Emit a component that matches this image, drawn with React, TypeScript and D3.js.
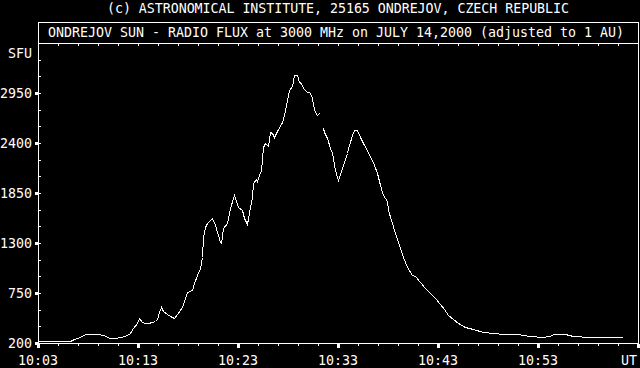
import React from "react";
import * as d3 from "d3";

// minutes after 10:00 UT
const times: number[] = [
  3.0, 4.2, 5.4, 6.2, 6.6, 7.2, 7.7, 8.2, 8.9, 9.5, 10.2, 10.7, 11.2, 11.7, 12.2, 12.53, 12.87, 13.13,
  13.37, 13.7, 14.03, 14.37, 14.7, 14.93, 15.13, 15.3, 15.53, 15.87, 16.2, 16.6, 16.93, 17.37, 17.93,
  18.37, 18.6, 18.87, 19.2, 19.37, 19.53, 19.7, 19.93, 20.37, 20.7, 21.2, 21.3, 21.53, 21.87, 22.2,
  22.63, 23.03, 23.37, 23.6, 23.93, 24.2, 24.37, 24.47, 24.77, 24.87, 25.1, 25.27, 25.47, 25.7, 25.97,
  26.2, 26.37, 26.63, 26.93, 27.4, 27.6, 27.87, 28.13, 28.37, 28.6, 28.87, 29.1, 29.27, 29.53, 29.87,
  30.13, 30.37, 30.53, 30.7, 30.93, 31.1, 31.3, 31.53, 31.6, 31.87, 32.2, 32.43, 32.7, 33.03, 33.37,
  33.53, 33.87, 34.13, 34.37, 34.6, 34.93, 35.2, 35.53, 35.87, 36.2, 36.53, 36.87, 37.2, 37.5, 37.87,
  38.03, 38.37, 38.7, 39.2, 39.53, 39.87, 40.37, 40.7, 41.2, 41.7, 42.2, 42.7, 43.2, 43.6, 44.03, 44.53,
  45.03, 45.7, 46.53, 47.53, 48.53, 49.53, 50.87, 52.2, 53.37, 54.2, 54.53, 55.7, 56.53, 58.2, 59.87, 61.37,
];
const flux: (number | null)[] = [
  222, 222, 222, 225, 240, 270, 295, 300, 302, 283, 255, 258, 268, 281, 314, 362, 423, 472,
  434, 423, 417, 434, 442, 460, 544, 592, 555, 519, 497, 478, 519, 599, 764,
  783, 857, 948, 1022, 1149, 1369, 1479, 1517, 1575, 1498, 1314, 1303, 1465, 1517, 1685,
  1828, 1700, 1663, 1572, 1506, 1700, 1809, 1957, 2000, 1985, 2048, 2103, 2359, 2396, 2367,
  2524, 2507, 2463, 2535, 2628, 2708, 2873, 2983, 3027, 3148, 3148, 3074, 3057, 3002, 2965,
  2958, 2910, 2818, 2744, 2708, 2726, null, 2561, 2524, 2451, 2341, 2286, 2103, 1993, 2121,
  2158, 2286, 2378, 2488, 2543, 2543, 2463, 2396, 2323, 2249, 2194, 2066, 1938, 1830, 1760,
  1660, 1517, 1407, 1242, 1149, 1039, 948, 937, 874, 801, 747, 692, 632, 570, 510, 462,
  420, 379, 353, 324, 306, 296, 296, 281, 270, 277, 296, 296, 277, 270, 263, 263,
];

const yTicks: number[] = [200, 750, 1300, 1850, 2400, 2950];
const xTicks: number[] = [3, 13, 23, 33, 43, 53, 63];
const xTickLabels: string[] = ["10:03", "10:13", "10:23", "10:33", "10:43", "10:53", ""];

const title1 = "(c) ASTRONOMICAL INSTITUTE, 25165 ONDREJOV, CZECH REPUBLIC";
const title2 = "ONDREJOV SUN - RADIO FLUX at 3000 MHz on JULY 14,2000 (adjusted to 1 AU)";

const W = 640, H = 368;
const L = 38, R = 638, T = 43, B = 343;
const FONT = "'DejaVu Sans Mono', 'Liberation Mono', monospace";

export default function App() {
  const x = d3.scaleLinear().domain([3, 63]).range([L, R]);
  const y = d3.scaleLinear().domain([200, 3500]).range([B, T]);
  const data = times.map((t, i) => ({ t, v: flux[i] }));
  const line = d3
    .line<{ t: number; v: number | null }>()
    .defined((d) => d.v !== null)
    .x((d) => Math.round(x(d.t)) + 0.5)
    .y((d) => Math.round(y(d.v as number)) + 0.5);

  const minorX = d3.range(3, 63.01, 2);
  const minorY = d3.range(200, 3500.1, 550 / 3);

  return (
    <svg
      width={W}
      height={H}
      style={{ position: "absolute", left: 0, top: 0, background: "#000" }}
      fontFamily={FONT}
    >
      <rect x={0} y={0} width={W} height={H} fill="#000" />
      <text x={338} y={13} fill="#fff" fontSize={13.3} textAnchor="middle" textLength={462} lengthAdjust="spacing">
        {title1}
      </text>
      {/* title box */}
      <rect x={L + 0.5} y={22.5} width={R - L} height={T - 22} fill="none" stroke="#fff" strokeWidth={1} />
      <text x={336} y={37} fill="#fff" fontSize={13.3} textAnchor="middle" textLength={576} lengthAdjust="spacing">
        {title2}
      </text>
      {/* plot frame */}
      <rect x={L + 0.5} y={T + 0.5} width={R - L} height={B - T} fill="none" stroke="#fff" strokeWidth={1} />
      {/* top minor ticks */}
      {minorX.map((m) => (
        <rect key={"tm" + m} x={Math.round(x(m))} y={T + 1} width={1} height={2} fill="#fff" />
      ))}
      {/* bottom minor ticks */}
      {minorX.map((m) => (
        <rect key={"bm" + m} x={Math.round(x(m))} y={B + 1} width={1} height={2} fill="#fff" />
      ))}
      {/* bottom major ticks */}
      {xTicks.map((m) => (
        <rect key={"bM" + m} x={Math.round(x(m)) - 1} y={B + 1} width={3} height={4} fill="#fff" />
      ))}
      {/* left minor ticks */}
      {minorY.map((v) => (
        <rect key={"lm" + v} x={L + 1} y={Math.round(y(v))} width={2} height={1} fill="#fff" />
      ))}
      {/* left major ticks */}
      {yTicks.map((v) => (
        <rect key={"lM" + v} x={L - 3} y={Math.round(y(v)) - 1} width={3} height={3} fill="#fff" />
      ))}
      {yTicks.map((v) => (
        <text key={"yl" + v} x={32} y={Math.round(y(v)) + 5} fill="#fff" fontSize={13.3} textAnchor="end">
          {v}
        </text>
      ))}
      <text x={32} y={58} fill="#fff" fontSize={13.3} textAnchor="end">SFU</text>
      {xTicks.map((m, i) => (
        <text key={"xl" + m} x={x(m)} y={365} fill="#fff" fontSize={13.3} textAnchor="middle">
          {xTickLabels[i]}
        </text>
      ))}
      <text x={629} y={365} fill="#fff" fontSize={13.3} textAnchor="middle">UT</text>
      <path d={line(data) || ""} fill="none" stroke="#fff" strokeWidth={1} shapeRendering="crispEdges" />
    </svg>
  );
}
